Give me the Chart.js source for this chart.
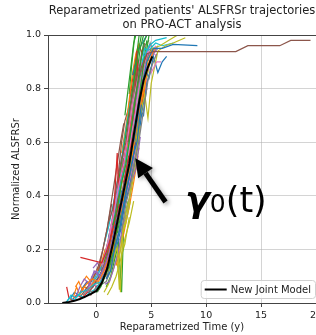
<!DOCTYPE html>
<html>
<head>
<meta charset="utf-8">
<script src="https://cdn.jsdelivr.net/npm/chart.js@4.4.1/dist/chart.umd.min.js"></script>
<style>html,body{margin:0;padding:0;background:#fff;overflow:hidden}</style>
</head>
<body>
<canvas id="c" width="316" height="335"></canvas>
<script>
// text
const titleLines = ["Reparametrized patients' ALSFRSr trajectories", "on PRO-ACT analysis"];
const xLabel = "Reparametrized Time (y)";
const yLabel = "Normalized ALSFRSr";
const legendLabel = "New Joint Model";
const xTicks = [0, 5, 10, 15, 20];
const yTicks = [0, 0.2, 0.4, 0.6, 0.8, 1.0];

// mean curve (black)
const curveX = [-3.1, -2.5, -2.0, -1.5, -1.0, -0.5, 0.0, 0.5, 1.0, 1.5, 2.0, 2.5, 3.0, 3.5, 3.9, 4.3, 4.7, 5.1];
const curveY = [0.0, 0.004, 0.008, 0.015, 0.024, 0.034, 0.045, 0.075, 0.13, 0.22, 0.32, 0.42, 0.52, 0.65, 0.75, 0.83, 0.88, 0.92];

// patient trajectories, [time, score] pairs
const trajectories = [
  [[0.9,0.09],[1.3,0.12],[1.7,0.21],[2.1,0.27],[2.5,0.37],[2.9,0.45],[3.3,0.54],[3.7,0.6],[4.1,0.74]],
  [[-1.9,0.06],[-1.6,0.08],[-1.3,0.05],[-0.9,0.07],[-0.4,0.09],[0.2,0.08],[0.7,0.12],[1.2,0.17],[1.6,0.24]],
  [[1.5,0.29],[1.9,0.35],[2.3,0.45],[2.7,0.52],[3.1,0.63],[3.5,0.75],[3.9,0.86],[4.3,0.97],[4.6,1.0]],
  [[-1.45,0.17],[0.5,0.15],[0.9,0.19],[1.3,0.24],[1.7,0.31],[2.1,0.37]],
  [[-0.8,0.05],[-0.4,0.1],[0.0,0.12],[0.4,0.09],[0.8,0.14],[1.2,0.19],[1.6,0.26],[2.0,0.31],[2.4,0.38]],
  [[2.9,0.6],[3.3,0.68],[3.7,0.8],[4.1,0.88],[4.6,0.93],[5.2,0.938],[12.7,0.938],[13.8,0.96],[16.7,0.96],[17.7,0.98],[19.5,0.98]],
  [[0.5,0.14],[0.9,0.2],[1.3,0.27],[1.7,0.36],[2.1,0.45],[2.5,0.52],[2.9,0.63],[3.3,0.74],[3.7,0.82],[4.1,0.9]],
  [[2.3,0.27],[2.7,0.37],[3.1,0.44],[3.5,0.52],[3.9,0.61],[4.3,0.72],[4.7,0.83],[5.1,0.89],[5.5,0.93]],
  [[1.2,0.12],[1.6,0.17],[1.9,0.21],[2.2,0.04],[2.4,0.27],[2.8,0.33],[3.2,0.45],[3.6,0.55],[4.0,0.66]],
  [[-2.6,0.01],[-2.3,0.03],[-1.9,0.02],[-1.4,0.04],[-0.8,0.05],[-0.2,0.07],[0.4,0.08],[0.9,0.12]],

  [[3.4,0.6],[3.8,0.7],[4.2,0.82],[4.6,0.9],[5.2,0.95],[6.0,0.95],[7.0,0.965],[9.2,0.96]],
  [[1.1,0.15],[1.5,0.2],[1.9,0.3],[2.3,0.35],[2.7,0.45],[3.1,0.5],[3.5,0.62],[3.9,0.72],[4.3,0.8]],
  [[0.0,0.04],[0.4,0.06],[0.8,0.1],[1.2,0.14],[1.6,0.21],[2.0,0.3],[2.4,0.38],[2.8,0.47],[3.2,0.55],[3.6,0.66],[4.0,0.8],[4.4,0.92]],
  [[1.3,0.25],[1.6,0.35],[1.9,0.56],[2.0,0.44],[2.4,0.5],[2.8,0.6],[3.2,0.7]],
  [[0.8,0.07],[1.2,0.08],[1.6,0.13],[2.0,0.19],[2.4,0.29],[2.8,0.33],[3.2,0.45],[3.6,0.5],[4.0,0.62]],
  [[1.1,0.3],[1.5,0.35],[1.9,0.45],[2.3,0.54],[2.7,0.6],[3.1,0.73],[3.5,0.82],[3.9,0.88]],
  [[2.9,0.55],[3.3,0.65],[3.7,0.75],[4.1,0.84],[4.5,0.89],[5.0,0.86],[5.5,0.9],[5.9,0.9]],
  [[-1.2,0.03],[-0.8,0.05],[-0.3,0.04],[0.2,0.06],[0.7,0.1],[1.2,0.15],[1.6,0.22],[2.0,0.3]],
  [[3.6,0.6],[4.0,0.7],[4.4,0.78],[4.7,0.69],[5.0,0.82],[5.6,0.94],[6.3,0.96],[7.0,0.97],[8.1,0.99]],
  [[1.4,0.27],[1.8,0.38],[2.2,0.44],[2.6,0.53],[3.0,0.6],[3.4,0.72],[3.8,0.82],[4.2,0.9],[4.8,0.96],[5.4,0.98],[6.4,0.99]],

  [[1.8,0.2],[2.2,0.27],[2.6,0.37],[3.0,0.43],[3.4,0.51],[3.8,0.6],[4.2,0.73],[4.6,0.8]],
  [[3.2,0.55],[3.6,0.63],[4.0,0.74],[4.4,0.8],[4.6,0.86],[5.0,0.92],[5.3,0.95]],
  [[2.0,0.45],[2.4,0.55],[2.8,0.66],[3.2,0.77],[3.5,0.85],[3.8,0.93],[4.1,1.0]],
  [[2.5,0.45],[2.9,0.53],[3.3,0.64],[3.5,0.72],[3.7,0.94],[3.8,0.83],[4.2,0.88],[4.6,0.93]],
  [[-1.8,0.03],[-1.5,0.06],[-1.1,0.09],[-0.6,0.07],[-0.2,0.12],[0.3,0.1],[0.8,0.14],[1.2,0.19]],
  [[-0.7,0.04],[-0.3,0.06],[0.1,0.09],[0.5,0.12],[0.9,0.16],[1.3,0.24],[1.7,0.33],[2.1,0.42],[2.5,0.54]],
  [[3.5,0.7],[3.9,0.8],[4.3,0.88],[4.7,0.94],[5.0,0.92],[5.4,0.96]],
  [[0.9,0.09],[1.3,0.14],[1.7,0.2],[2.1,0.27],[2.5,0.36],[2.9,0.45],[3.3,0.52]],
  [[0.7,0.04],[1.1,0.07],[1.5,0.12],[1.9,0.17],[2.3,0.25],[2.7,0.3],[3.1,0.38]],
  [[-2.8,0.0],[-2.4,0.02],[-2.0,0.01],[-1.6,0.03],[-1.1,0.02],[-0.6,0.04],[-0.1,0.05],[0.4,0.08]],

  [[4.4,0.88],[4.8,0.84],[5.2,0.92],[5.6,0.86],[6.0,0.9],[6.4,0.92]],
  [[0.7,0.14],[1.1,0.19],[1.5,0.27],[1.9,0.36],[2.3,0.44],[2.7,0.55],[3.1,0.66],[3.5,0.75],[3.9,0.84]],
  [[2.6,0.52],[3.0,0.64],[3.4,0.76],[3.7,0.86],[4.0,0.95],[4.3,1.0]],
  [[-2.7,0.06],[-2.5,0.02],[-2.2,0.01],[-1.8,0.03],[-1.3,0.02],[-0.8,0.04]],
  [[1.8,0.28],[2.2,0.36],[2.6,0.44],[3.0,0.53],[3.4,0.62],[3.8,0.74],[4.2,0.82],[4.6,0.88]],
  [[-1.0,0.05],[-0.6,0.07],[-0.2,0.1],[0.2,0.14],[0.6,0.2],[1.0,0.28],[1.4,0.37]],
  [[1.2,0.26],[1.6,0.35],[2.0,0.43],[2.4,0.52],[2.8,0.63],[3.2,0.74],[3.6,0.83]],
  [[3.8,0.78],[4.2,0.86],[4.6,0.92],[4.9,0.9],[5.3,0.95]],
  [[2.0,0.14],[2.2,0.2],[2.5,0.3],[2.8,0.36],[3.1,0.4],[3.5,0.5],[3.9,0.58]],
  [[0.7,0.22],[1.1,0.28],[1.5,0.36],[1.9,0.45],[2.3,0.54],[2.7,0.65],[3.1,0.75]],

  [[2.5,0.38],[2.9,0.45],[3.3,0.53],[3.6,0.62],[4.0,0.72],[4.3,0.7],[4.6,0.82],[5.0,0.88]],
  [[-2.1,0.02],[-1.8,0.06],[-1.5,0.03],[-1.1,0.06],[-0.7,0.05],[-0.2,0.08],[0.3,0.07],[0.8,0.11]],
  [[0.7,0.15],[1.1,0.2],[1.5,0.29],[1.9,0.38],[2.3,0.47],[2.7,0.58],[3.0,0.68],[3.3,0.8],[3.6,0.9],[3.9,1.0]],
  [[0.4,0.07],[0.8,0.1],[1.1,0.16],[1.5,0.22],[1.9,0.29],[2.3,0.37]],
  [[2.9,0.58],[3.3,0.68],[3.7,0.78],[4.1,0.88],[4.5,0.93],[4.9,0.96]],
  [[0.2,0.12],[0.6,0.2],[1.0,0.28],[1.3,0.36],[1.6,0.44],[1.9,0.52],[2.2,0.6],[2.5,0.67]],
  [[-0.9,0.04],[-0.5,0.07],[0.0,0.08],[0.5,0.1],[1.0,0.14],[1.5,0.2],[1.9,0.26]],
  [[1.6,0.2],[2.0,0.26],[2.4,0.35],[2.7,0.42],[3.0,0.48],[3.4,0.57]],
  [[4.2,0.82],[4.6,0.9],[5.1,0.95],[5.8,0.96],[6.6,0.98],[7.4,1.0]],
  [[3.0,0.6],[3.4,0.7],[3.8,0.8],[4.1,0.88],[4.4,0.95],[4.7,0.94],[5.4,0.97],[6.0,0.96],[7.0,0.97]],

  [[3.3,0.85],[3.6,0.9],[3.9,0.95],[4.2,0.97],[4.6,1.0]],
  [[3.6,0.66],[3.9,0.72],[4.1,0.78],[4.4,0.84],[4.7,0.9],[5.0,0.94]],
  [[2.6,0.7],[2.9,0.8],[3.2,0.9],[3.4,0.97],[3.6,1.0]],
  [[2.3,0.5],[2.7,0.58],[3.1,0.7],[3.4,0.8],[3.7,0.9]],
  [[3.9,0.8],[4.3,0.88],[4.7,0.93],[5.2,0.93],[5.6,0.95]],
  [[3.0,0.62],[3.4,0.73],[3.8,0.84],[4.1,0.92],[4.4,0.97]],
  [[4.0,0.82],[4.3,0.85],[4.6,0.9],[5.0,0.94],[5.5,0.92]],
  [[4.5,0.92],[4.9,0.97],[5.2,0.93],[5.6,0.96]],
  [[3.0,0.5],[3.4,0.58],[3.8,0.68],[4.2,0.78],[4.6,0.87],[5.0,0.92]],
  [[2.0,0.36],[2.3,0.44],[2.7,0.52],[3.0,0.6],[3.4,0.7],[3.8,0.8],[4.2,0.9]],

  [[-0.5,0.06],[-0.1,0.08],[0.3,0.1],[0.7,0.14],[1.1,0.19],[1.5,0.25],[1.9,0.34],[2.3,0.42]],
  [[1.8,0.14],[2.2,0.2],[2.6,0.28],[3.0,0.36],[3.4,0.45],[3.8,0.55]],
  [[1.0,0.1],[1.4,0.16],[1.8,0.24],[2.2,0.32],[2.6,0.42],[3.0,0.5],[3.4,0.6],[3.8,0.72],[4.2,0.83],[4.5,0.92],[4.8,1.0]],
  [[2.8,0.43],[3.2,0.52],[3.6,0.6],[4.0,0.7],[4.4,0.8]],
  [[0.2,0.09],[0.6,0.12],[1.0,0.2],[1.4,0.26],[1.8,0.35],[2.2,0.43]],
  [[-1.5,0.02],[-1.0,0.05],[-0.5,0.03],[0.0,0.06],[0.5,0.08],[1.0,0.12]],
  [[2.2,0.3],[2.6,0.36],[3.0,0.45],[3.4,0.52],[3.8,0.63],[4.2,0.74],[4.6,0.84]],
  [[0.4,0.12],[0.8,0.18],[1.2,0.25],[1.6,0.33],[2.0,0.4],[2.4,0.52]],
  [[1.0,0.03],[1.4,0.06],[1.8,0.1],[2.2,0.16],[2.6,0.24],[3.0,0.3],[3.4,0.38]],
  [[1.3,0.18],[1.7,0.25],[2.1,0.33],[2.5,0.42],[2.9,0.5],[3.3,0.59],[3.7,0.7]],

  [[1.4,0.28],[1.8,0.36],[2.2,0.45],[2.6,0.55],[3.0,0.65],[3.4,0.76],[3.8,0.86]],
  [[2.3,0.56],[2.7,0.66],[3.0,0.76],[3.3,0.86],[3.6,0.93],[3.9,0.97]],
  [[1.6,0.22],[2.0,0.3],[2.4,0.39],[2.8,0.48],[3.2,0.58],[3.6,0.68],[4.0,0.8],[4.3,0.9],[4.6,0.98]],
  [[0.2,0.06],[0.6,0.1],[1.0,0.15],[1.4,0.22],[1.8,0.3]],
  [[2.6,0.38],[3.0,0.44],[3.4,0.54],[3.8,0.64],[4.2,0.74],[4.6,0.83]],
  [[1.6,0.26],[2.0,0.34],[2.4,0.42],[2.8,0.52],[3.2,0.6]],
  [[-1.6,0.03],[-1.2,0.05],[-0.8,0.04],[-0.3,0.07],[0.2,0.06],[0.6,0.1]],
  [[2.5,0.5],[2.9,0.58],[3.3,0.7],[3.7,0.8],[4.1,0.9]],
  [[3.3,0.56],[3.7,0.64],[4.1,0.74],[4.5,0.82],[4.9,0.9],[5.3,0.95]],
  [[-0.3,0.08],[0.1,0.1],[0.5,0.14],[0.9,0.2],[1.3,0.27]],

  [[-2.3,0.02],[-2.0,0.04],[-1.6,0.03],[-1.2,0.06],[-0.8,0.08],[-0.3,0.06],[0.2,0.09]],
  [[-1.2,0.08],[-0.9,0.1],[-0.5,0.08],[0.0,0.12],[0.4,0.14],[0.8,0.2]],
  [[0.9,0.06],[1.3,0.1],[1.6,0.15],[2.0,0.22],[2.3,0.04],[2.5,0.3],[2.9,0.38]],
  [[3.1,0.78],[3.4,0.86],[3.6,0.92],[3.9,0.96],[4.2,0.93]],
  [[-0.3,0.13],[0.1,0.15],[0.5,0.12],[0.9,0.17],[1.3,0.24],[1.7,0.3]],
  [[2.0,0.48],[2.3,0.6],[2.6,0.68],[2.9,0.72],[3.2,0.8]],
  [[1.5,0.3],[1.9,0.38],[2.3,0.47],[2.7,0.58],[3.1,0.68],[3.5,0.8],[3.9,0.9],[4.3,0.96]],
  [[0.1,0.04],[0.5,0.07],[0.9,0.08],[1.3,0.12],[1.7,0.18],[2.1,0.24]],
  [[1.7,0.2],[2.0,0.12],[2.1,0.05],[2.3,0.18],[2.6,0.22],[3.0,0.32]],
  [[2.6,0.46],[3.0,0.55],[3.4,0.66],[3.8,0.76],[4.2,0.86],[4.6,0.93]],

  [[1.1,0.24],[1.5,0.32],[1.9,0.42],[2.3,0.5],[2.7,0.6],[3.1,0.7],[3.5,0.8]],
  [[-0.2,0.1],[0.2,0.13],[0.6,0.16],[1.0,0.22],[1.4,0.3],[1.8,0.4],[2.2,0.48]],
  [[3.0,0.78],[3.2,0.88],[3.4,0.96],[3.5,1.0]],
  [[-0.6,0.05],[-0.2,0.07],[0.2,0.05],[0.6,0.09],[1.0,0.11]],
  [[1.0,0.16],[1.4,0.21],[1.8,0.28],[2.2,0.38],[2.6,0.47],[3.0,0.56]],
  [[3.6,0.72],[4.0,0.81],[4.3,0.88],[4.7,0.92],[5.1,0.96]],
  [[-1.3,0.05],[-0.9,0.08],[-0.5,0.06],[-0.1,0.09],[0.3,0.12],[0.7,0.16]],
  [[3.3,0.74],[3.7,0.84],[4.0,0.9],[4.4,0.96],[4.8,0.98]],
  [[2.2,0.34],[2.6,0.42],[3.0,0.52],[3.4,0.6],[3.8,0.7],[4.2,0.8]],
  [[-1.0,0.06],[-0.6,0.05],[-0.2,0.09],[0.2,0.12],[0.6,0.15],[1.0,0.2]]
];

// annotation anchors, data units
const arrowFrom = [6.3, 0.377];
const arrowTo = [3.55, 0.54];
const labelAt = [8.1, 0.34];

const palette = ['#1f77b4','#ff7f0e','#2ca02c','#d62728','#9467bd','#8c564b','#e377c2','#7f7f7f','#bcbd22','#17becf'];
const FONT = '"DejaVu Sans", sans-serif';

const datasets = [{
  label: legendLabel,
  data: curveX.map((x, i) => ({x: x, y: curveY[i]})),
  showLine: true, borderColor: '#000', borderWidth: 2, pointRadius: 0
}];
trajectories.forEach((t, i) => {
  datasets.push({
    label: 'p' + i,
    data: t.map(p => ({x: p[0], y: p[1]})),
    showLine: true, borderColor: palette[i % 10], borderWidth: 1.2, pointRadius: 0
  });
});

const decor = {
  id: 'decor',
  afterDatasetsDraw(chart) {
    const {ctx, chartArea: a, scales: {x, y}} = chart;
    ctx.save();
    // top spine
    ctx.strokeStyle = '#444'; ctx.lineWidth = 1;
    ctx.beginPath(); ctx.moveTo(a.left, a.top + 0.5); ctx.lineTo(a.right, a.top + 0.5); ctx.stroke();

    // arrow
    const x1 = x.getPixelForValue(arrowFrom[0]), y1 = y.getPixelForValue(arrowFrom[1]);
    const x2 = x.getPixelForValue(arrowTo[0]), y2 = y.getPixelForValue(arrowTo[1]);
    const ang = Math.atan2(y2 - y1, x2 - x1);
    const hl = 18, hw = 9;
    const bx = x2 - hl * Math.cos(ang), by = y2 - hl * Math.sin(ang);
    ctx.shadowColor = 'rgba(0,0,0,0.35)'; ctx.shadowBlur = 4; ctx.shadowOffsetX = 2; ctx.shadowOffsetY = 2;
    ctx.strokeStyle = '#000'; ctx.fillStyle = '#000'; ctx.lineWidth = 5;
    ctx.beginPath(); ctx.moveTo(x1, y1); ctx.lineTo(bx, by); ctx.stroke();
    ctx.beginPath();
    ctx.moveTo(x2, y2);
    ctx.lineTo(bx + hw * Math.sin(ang), by - hw * Math.cos(ang));
    ctx.lineTo(bx - hw * Math.sin(ang), by + hw * Math.cos(ang));
    ctx.closePath(); ctx.fill();
    ctx.shadowColor = 'transparent';

    // gamma_0(t)
    let tx = x.getPixelForValue(labelAt[0]);
    const ty = y.getPixelForValue(labelAt[1]);
    ctx.textBaseline = 'alphabetic'; ctx.textAlign = 'left'; ctx.fillStyle = '#000';
    ctx.font = 'italic bold 36px ' + FONT; ctx.fillText('\u03b3', tx, ty); tx += ctx.measureText('\u03b3').width;
    ctx.font = '25px ' + FONT; ctx.fillText('0', tx, ty); tx += ctx.measureText('0').width;
    ctx.font = '35px ' + FONT; ctx.fillText('(t)', tx, ty);

    // legend
    ctx.font = '10px ' + FONT;
    const tw = ctx.measureText(legendLabel).width;
    const w = tw + 34, h = 18;
    const lx = a.right - 1 - w, ly = a.bottom - 5 - h;
    ctx.fillStyle = 'rgba(255,255,255,0.85)'; ctx.strokeStyle = '#d0d0d0'; ctx.lineWidth = 1;
    ctx.beginPath(); ctx.roundRect(lx + 0.5, ly + 0.5, w, h, 3); ctx.fill(); ctx.stroke();
    ctx.strokeStyle = '#000'; ctx.lineWidth = 2;
    ctx.beginPath(); ctx.moveTo(lx + 4, ly + h / 2 + 0.5); ctx.lineTo(lx + 26, ly + h / 2 + 0.5); ctx.stroke();
    ctx.fillStyle = '#222'; ctx.textBaseline = 'middle';
    ctx.fillText(legendLabel, lx + 30, ly + h / 2 + 1);

    // title
    const cx = (a.left + a.right) / 2;
    ctx.font = '11.5px ' + FONT; ctx.textAlign = 'center'; ctx.textBaseline = 'alphabetic';
    ctx.fillText(titleLines[0], cx, 13.5);
    ctx.fillText(titleLines[1], cx, 27.5);
    ctx.restore();
  }
};

new Chart(document.getElementById('c'), {
  type: 'scatter',
  data: {datasets: datasets},
  options: {
    responsive: false, animation: false, devicePixelRatio: 1,
    layout: {padding: {top: 35, right: 0, left: 0, bottom: 0}},
    plugins: {legend: {display: false}, tooltip: {enabled: false}, title: {display: false}},
    scales: {
      x: {
        type: 'linear', min: -4.4, max: 20,
        afterBuildTicks: s => { s.ticks = xTicks.map(v => ({value: v})); },
        afterFit: s => { s.height = 32; s.paddingRight = 0; s.paddingLeft = 0; },
        ticks: {color: '#222', font: {family: FONT, size: 9.5}, padding: 3, maxRotation: 0, callback: v => String(v)},
        grid: {color: 'rgba(176,176,176,0.55)', tickColor: '#444', tickLength: 4, lineWidth: 1},
        border: {color: '#444', width: 1},
        title: {display: true, text: xLabel, color: '#222', font: {family: FONT, size: 10}, padding: {top: 0, bottom: 2}}
      },
      y: {
        min: 0, max: 1,
        afterBuildTicks: s => { s.ticks = yTicks.map(v => ({value: v})); },
        afterFit: s => { s.width = 48; s.paddingTop = 0; s.paddingBottom = 0; },
        ticks: {color: '#222', font: {family: FONT, size: 9.5}, padding: 3, callback: v => v.toFixed(1)},
        grid: {color: 'rgba(176,176,176,0.55)', tickColor: '#444', tickLength: 4, lineWidth: 1},
        border: {color: '#444', width: 1},
        title: {display: true, text: yLabel, color: '#222', font: {family: FONT, size: 10}, padding: {top: 10, bottom: 0}}
      }
    }
  },
  plugins: [decor]
});
</script>
</body>
</html>
